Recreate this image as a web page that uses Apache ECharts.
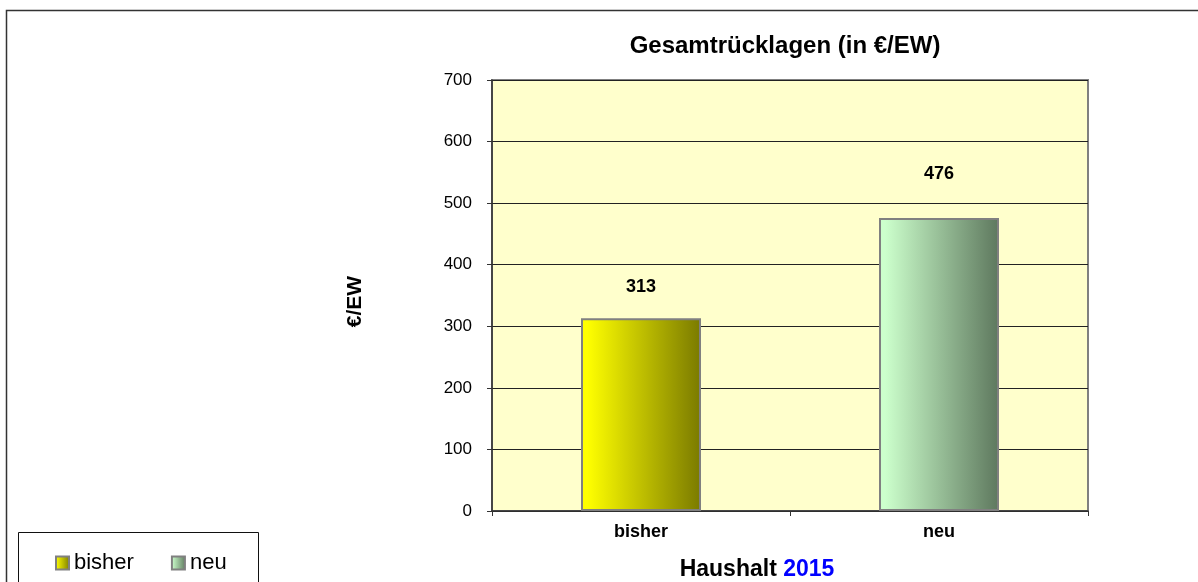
<!DOCTYPE html>
<html>
<head>
<meta charset="utf-8">
<script src="https://cdn.jsdelivr.net/npm/echarts@6/dist/echarts.min.js"></script>
<style>
  html, body { margin: 0; padding: 0; background: #fff; }
  #chart { width: 1198px; height: 582px; }
</style>
</head>
<body>
<div id="chart"></div>
<script>
var categories = ['bisher', 'neu'];
var values = [313, 476];
var yTicks = [0, 700, 100]; // min, max, interval

var barColors = [
    ['#ffff00', '#7a7a00'],
    ['#ccffcc', '#5e785e']
];
var labelGap = [22, 35];

var myChart = echarts.init(document.getElementById('chart'));

function grad(i) {
    return new echarts.graphic.LinearGradient(0, 0, 1, 0, [
        { offset: 0.05, color: barColors[i][0] },
        { offset: 1, color: barColors[i][1] }
    ]);
}

var barData = values.map(function (v, i) {
    return {
        value: v,
        itemStyle: { color: grad(i) },
        label: { distance: labelGap[i] }
    };
});

var option = {
    animation: false,
    backgroundColor: '#fff',
    title: {
        text: 'Gesamtrücklagen (in €/EW)',
        left: 780,
        textAlign: 'center',
        top: 29,
        textStyle: { fontFamily: 'Liberation Sans', fontSize: 24, fontWeight: 'bold', color: '#000' }
    },
    grid: {
        left: 492, top: 80, right: 110, bottom: 71,
        outerBoundsMode: 'none',
        containLabel: false,
        show: true,
        backgroundColor: '#ffffcc',
        borderColor: '#808080',
        borderWidth: 2
    },
    xAxis: {
        type: 'category',
        data: categories,
        name: '{a|Haushalt }{b|2015}',
        nameLocation: 'middle',
        nameGap: 47,
        nameTextStyle: {
            padding: [0, 66, 0, 0],
            rich: {
                a: { fontFamily: 'Liberation Sans', fontSize: 23, fontWeight: 'bold', color: '#000' },
                b: { fontFamily: 'Liberation Sans', fontSize: 23, fontWeight: 'bold', color: '#0000ff' }
            }
        },
        axisLine: { lineStyle: { color: '#333', width: 1.5 } },
        axisTick: { show: true, length: 5, lineStyle: { color: '#333' } },
        axisLabel: { margin: 12, fontFamily: 'Liberation Sans', fontSize: 18, fontWeight: 'bold', color: '#000' }
    },
    yAxis: {
        type: 'value',
        min: yTicks[0],
        max: yTicks[1],
        interval: yTicks[2],
        name: '€/EW',
        nameLocation: 'middle',
        nameGap: 126,
        nameTextStyle: { fontFamily: 'Liberation Sans', fontSize: 21, fontWeight: 'bold', color: '#000', padding: [0, 12, 0, 0] },
        axisLine: { show: true, lineStyle: { color: '#333', width: 1.5 } },
        axisTick: { show: true, length: 5, lineStyle: { color: '#333' } },
        axisLabel: { margin: 20, fontFamily: 'Liberation Sans', fontSize: 17, color: '#000' },
        splitLine: { lineStyle: { color: '#222', width: 1 } }
    },
    legend: {
        data: categories.map(function (c, i) {
            return { name: c, itemStyle: { color: grad(i) } };
        }),
        left: 50,
        top: 547,
        itemWidth: 13,
        itemHeight: 13,
        itemGap: 37,
        icon: 'rect',
        textStyle: { fontFamily: 'Liberation Sans', fontSize: 22, color: '#000' }
    },
    graphic: [
        {
            type: 'rect',
            left: 4, top: 8,
            shape: { width: 1250, height: 650 },
            style: { fill: 'none', stroke: '#333', lineWidth: 1.5 },
            silent: true, z: -1
        },
        {
            type: 'rect',
            left: 16, top: 530,
            shape: { width: 240, height: 80 },
            style: { fill: 'none', stroke: '#111', lineWidth: 1 },
            silent: true
        }
    ],
    series: categories.map(function (c, i) {
        var d = categories.map(function (cc, j) { return j === i ? barData[j] : '-'; });
        return {
            name: c,
            type: 'bar',
            data: d,
            stack: 'all',
            barWidth: 120,
            itemStyle: { borderColor: '#808080', borderWidth: 2 },
            label: {
                show: true,
                position: 'top',
                fontFamily: 'Liberation Sans',
                fontSize: 18,
                fontWeight: 'bold',
                color: '#000'
            }
        };
    })
};

myChart.setOption(option);
</script>
</body>
</html>
